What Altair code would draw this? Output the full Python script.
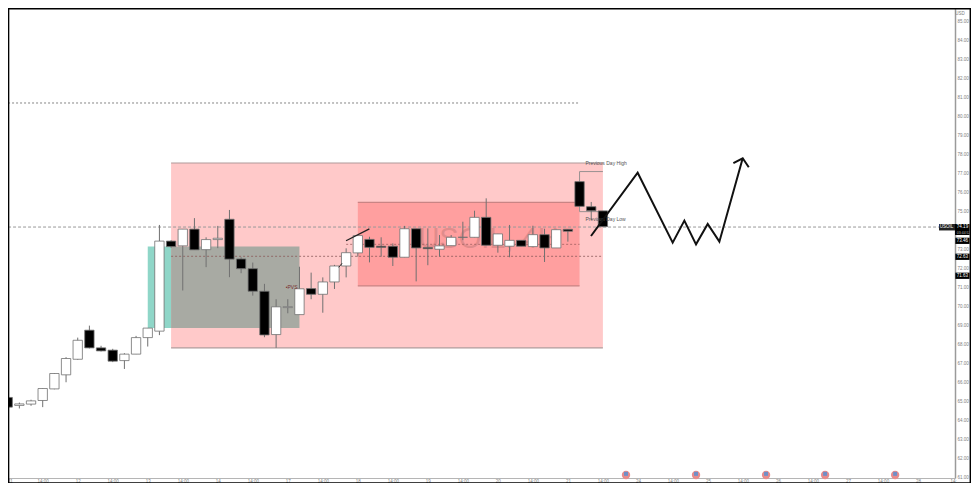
import json
import altair as alt
import pandas as pd

opens = [65.22,64.80,64.87,65.06,65.67,66.41,67.23,68.76,67.83,67.71,67.16,67.50,68.37,68.71,73.45,73.20,74.08,73.00,73.53,74.60,72.51,72.00,70.81,68.53,69.95,69.58,70.95,70.65,71.30,72.14,72.83,73.54,73.18,73.18,72.60,74.10,73.11,73.02,73.21,73.65,73.65,74.70,73.23,73.18,73.49,73.16,73.79,73.09,74.07,76.58,75.26,75.04]
closes = [64.71,64.88,65.04,65.69,66.48,67.27,68.23,67.83,67.67,67.13,67.50,68.37,68.87,73.45,73.16,74.08,72.99,73.53,73.60,72.50,72.00,70.81,68.51,69.99,70.00,70.94,70.65,71.30,72.14,72.84,73.74,73.12,73.12,72.60,74.10,73.09,73.05,73.20,73.65,73.65,74.70,73.23,73.83,73.49,73.18,73.79,73.09,74.05,73.97,75.28,75.05,74.21]
highs = [65.27,64.95,65.10,65.70,66.50,67.34,68.37,69.00,67.94,67.78,67.55,68.46,68.87,74.30,73.50,74.08,74.66,73.65,74.25,75.09,72.60,72.32,71.20,70.39,70.39,72.10,71.79,71.54,72.20,73.07,73.74,73.68,73.65,73.33,74.25,74.10,74.12,73.77,73.77,74.47,75.05,75.70,73.83,74.30,73.49,74.26,74.10,74.05,74.07,76.58,75.51,75.04]
lows = [64.60,64.64,64.78,64.71,65.65,66.02,67.20,67.80,67.64,67.08,66.72,67.50,67.90,68.50,73.10,70.85,72.99,72.08,73.08,71.55,71.76,70.58,68.39,67.83,69.65,69.58,70.39,69.68,70.93,71.54,72.63,72.33,72.63,72.14,72.60,71.33,72.18,72.63,73.20,73.50,73.65,73.23,72.84,72.60,73.18,73.16,72.35,73.09,73.42,75.28,74.56,74.19]

xtick_pos = [0.2] + list(range(3, 82, 3))
xtick_text = ["11","14:00","12","14:00","13","14:00","14","14:00","17","14:00","18","14:00","19","14:00","20","14:00","21","14:00","24","14:00","25","14:00","26","14:00","27","14:00","28","14:"]
ytick_vals = [61,62,63,64,65,66,67,68,69,70,71,72,73,75,76,77,78,79,80,81,82,83,84,85]

proj_x = [49.98,53.98,56.98,57.98,58.98,59.98,60.98,62.98]
proj_y = [73.72,77.05,73.37,74.53,73.28,74.35,73.42,77.81]
head_x = [62.18,62.98,63.50]
head_y = [77.55,77.81,77.34]

XD = [0.026, 81.17]
YD = [60.98, 85.72]
W, H = 947, 470

x_axis = alt.Axis(values=xtick_pos, labelExpr=json.dumps(xtick_text) + "[round(datum.value/3)]", title=None,
                  grid=False, ticks=False, domainColor="#b5b5b5", domainWidth=1, labelColor="#808080",
                  labelFontSize=4.5, labelFont="Liberation Sans", labelPadding=0, labelOverlap=False, labelFlush=False)
y_axis = alt.Axis(values=ytick_vals, format=".2f", orient="right", title=None, grid=False, ticks=False,
                  domainColor="#9a9a9a", domainWidth=1.5, labelColor="#808080", labelFontSize=4.5,
                  labelFont="Liberation Sans", labelPadding=2, labelOverlap=False, labelFlush=False)


def X(f="x"):
    return alt.X(f"{f}:Q", scale=alt.Scale(domain=XD, nice=False, zero=False), axis=x_axis)


def Y(f="y"):
    return alt.Y(f"{f}:Q", scale=alt.Scale(domain=YD, nice=False, zero=False), axis=y_axis)


def box(x0, x1, y0, y1, color, opacity=1.0):
    d = pd.DataFrame({"a": [x0], "b": [x1], "c": [y0], "d": [y1]})
    return alt.Chart(d).mark_rect(color=color, opacity=opacity).encode(x=X("a"), x2="b:Q", y=Y("c"), y2="d:Q")


def hline(x0, x1, y, color, width=1.0, dash=None):
    d = pd.DataFrame({"x": [x0, x1], "y": [y, y]})
    kw = {"strokeDash": dash} if dash else {}
    return alt.Chart(d).mark_line(color=color, strokeWidth=width, **kw).encode(x=X(), y=Y())


def path(xs, ys, color, width=1.0):
    d = pd.DataFrame({"x": xs, "y": ys, "o": list(range(len(xs)))})
    return alt.Chart(d).mark_line(color=color, strokeWidth=width).encode(x=X(), y=Y(), order="o:Q")


def label(x, y, text, size=5, color="#555555", align="left", weight="normal", opacity=1.0):
    d = pd.DataFrame({"x": [x], "y": [y], "t": [text]})
    return alt.Chart(d).mark_text(fontSize=size, color=color, align=align, baseline="middle",
                                  font="Liberation Sans", fontWeight=weight, opacity=opacity).encode(x=X(), y=Y(), text="t:N")


n = len(opens)
candles = pd.DataFrame({
    "i": list(range(n)), "open": opens, "close": closes, "high": highs, "low": lows,
    "left": [i - 0.4 for i in range(n)], "right": [i + 0.4 for i in range(n)],
    "fill": ["#ffffff" if c >= o else "#000000" for o, c in zip(opens, closes)],
})
wicks = alt.Chart(candles).mark_rule(color="#707070", strokeWidth=1).encode(x=X("i"), y=Y("low"), y2="high:Q")
bodies = alt.Chart(candles).mark_rect(stroke="#707070", strokeWidth=0.8).encode(
    x=X("left"), x2="right:Q", y=Y("open"), y2="close:Q", fill=alt.Fill("fill:N", scale=None))

flag_x = [52.98, 58.98, 64.98, 70.04, 76.04]
flags = pd.DataFrame({"x": flag_x, "y": [61.14] * 5})
flag_a = alt.Chart(flags).mark_point(filled=True, shape="circle", size=70, color="#e88c8c", opacity=1).encode(x=X(), y=Y())
flag_b = alt.Chart(flags.assign(y=61.2)).mark_point(filled=True, shape="square", size=16, color="#6f8fc8", opacity=1).encode(x=X(), y=Y())

layers = [
    box(14, 51, 67.83, 77.56, "#ffc9c9"),
    hline(14, 51, 77.56, "#b09a9a", 1.2),
    hline(14, 51, 67.83, "#b09a9a", 1.2),
    box(30, 49, 71.09, 75.49, "#ff9f9f"),
    hline(30, 49, 75.49, "#c98484", 1.2),
    hline(30, 49, 71.09, "#c98484", 1.2),
    box(12, 14, 68.87, 73.16, "#8fd6c8"),
    box(14, 25, 68.87, 73.16, "#a8aaa3"),
    label(41.2, 73.55, "USOIL, 4H", size=29, color="#a86a6a", align="center", opacity=0.35),
    hline(0.03, 48.9, 80.72, "#666666", 0.8, [2, 2]),
    hline(0.03, 79.8, 74.19, "#999999", 1, [3, 2]),
    hline(29, 49, 73.28, "#a06060", 0.8, [2, 2]),
    hline(14, 51, 72.65, "#8a5a5a", 0.8, [2, 2]),
    path([49, 49, 51], [76.58, 77.11, 77.11], "#999090", 1),
    path([49, 49, 51], [75.28, 75.00, 75.00], "#999090", 1),
    wicks,
    bodies,
    label(24.33, 71.02, "•PVS", size=5, color="#7a3030", align="center"),
    label(49.5, 77.55, "Previous Day High", size=5),
    label(49.5, 74.6, "Previous Day Low", size=5),
    path([28.36, 28.65], [72.07, 72.28], "#222222", 1),
    path([28.99, 30.99], [73.47, 74.09], "#222222", 1.3),
    path(proj_x, proj_y, "#111111", 2),
    path(head_x, head_y, "#111111", 2),
    flag_a,
    flag_b,
    # price tags on the scale
    box(79.8, 81.17, 74.01, 74.35, "#222222"),
    label(80.45, 74.18, "USOIL", size=4.5, color="#ffffff", align="center"),
    box(81.17, 82.42, 73.77, 74.35, "#000000"),
    label(81.33, 74.2, "74.19", size=4.5, color="#ffffff"),
    label(81.33, 73.9, "03:44:52", size=3.5, color="#bbbbbb"),
    box(81.2, 82.42, 73.30, 73.63, "#000000"),
    label(81.8, 73.46, "73.46", size=4.5, color="#ffffff", align="center"),
    box(81.2, 82.42, 72.46, 72.79, "#000000"),
    label(81.8, 72.63, "72.63", size=4.5, color="#ffffff", align="center"),
    box(81.2, 82.42, 71.46, 71.79, "#000000"),
    label(81.8, 71.63, "71.63", size=4.5, color="#ffffff", align="center"),
    label(81.6, 85.4, "USD", size=4.5, color="#808080", align="center"),
    # frame
    box(82.42, 82.55, 60.72, 85.72, "#000000"),
    box(0.026, 82.55, 60.72, 60.76, "#000000"),
    box(0.026, 82.55, 85.64, 85.72, "#000000"),
    box(0.026, 0.14, 60.72, 85.72, "#000000"),
]

chart = alt.layer(*layers).properties(
    width=W, height=H, background="#ffffff",
    padding={"left": 0, "top": 0, "right": 16, "bottom": 5},
    autosize=alt.AutoSizeParams(type="none"),
).configure_view(stroke=None)

chart.save("out.html", embed_options={"renderer": "svg", "actions": False})
